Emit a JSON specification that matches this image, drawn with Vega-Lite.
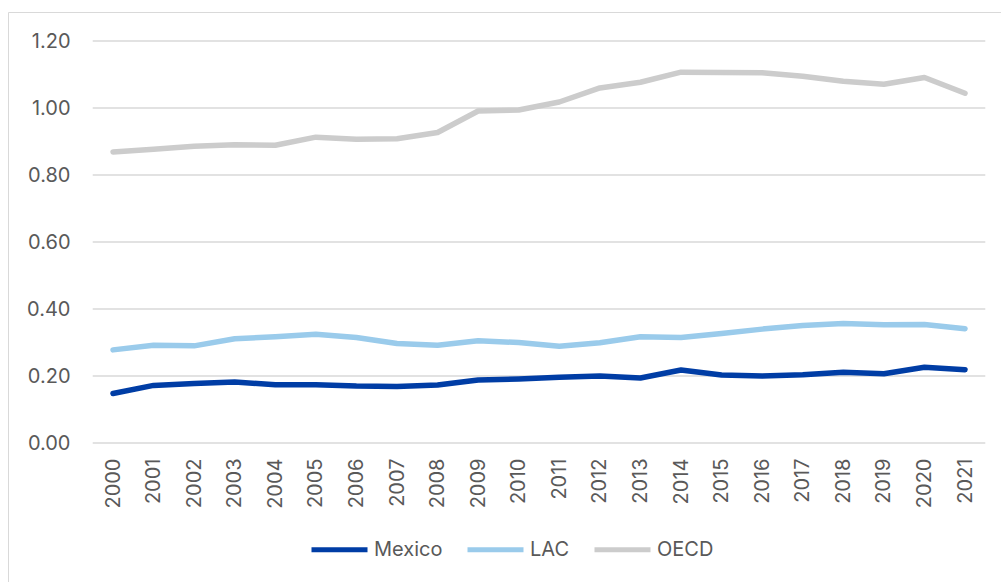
{
  "$schema": "https://vega.github.io/schema/vega-lite/v6.json",
  "width": 993,
  "height": 570,
  "autosize": {"type": "none"},
  "padding": {"left": 8, "top": 12, "right": 0, "bottom": 0},
  "background": "white",
  "config": {
    "view": {"stroke": null},
    "font": "Inter",
    "axis": {"labelFont": "Inter", "labelColor": "#595959", "labelFontSize": 20}
  },
  "datasets": {
    "gridLevels": [
      {"level": 0}, {"level": 0.2}, {"level": 0.4}, {"level": 0.6},
      {"level": 0.8}, {"level": 1.0}, {"level": 1.2}
    ],
    "indicator": [
      {"year": 2000, "series": "Mexico", "value": 0.148},
      {"year": 2001, "series": "Mexico", "value": 0.172},
      {"year": 2002, "series": "Mexico", "value": 0.178},
      {"year": 2003, "series": "Mexico", "value": 0.182},
      {"year": 2004, "series": "Mexico", "value": 0.174},
      {"year": 2005, "series": "Mexico", "value": 0.174},
      {"year": 2006, "series": "Mexico", "value": 0.170},
      {"year": 2007, "series": "Mexico", "value": 0.169},
      {"year": 2008, "series": "Mexico", "value": 0.173},
      {"year": 2009, "series": "Mexico", "value": 0.188},
      {"year": 2010, "series": "Mexico", "value": 0.191},
      {"year": 2011, "series": "Mexico", "value": 0.196},
      {"year": 2012, "series": "Mexico", "value": 0.200},
      {"year": 2013, "series": "Mexico", "value": 0.194},
      {"year": 2014, "series": "Mexico", "value": 0.218},
      {"year": 2015, "series": "Mexico", "value": 0.203},
      {"year": 2016, "series": "Mexico", "value": 0.200},
      {"year": 2017, "series": "Mexico", "value": 0.204},
      {"year": 2018, "series": "Mexico", "value": 0.211},
      {"year": 2019, "series": "Mexico", "value": 0.207},
      {"year": 2020, "series": "Mexico", "value": 0.226},
      {"year": 2021, "series": "Mexico", "value": 0.219},
      {"year": 2000, "series": "LAC", "value": 0.278},
      {"year": 2001, "series": "LAC", "value": 0.292},
      {"year": 2002, "series": "LAC", "value": 0.290},
      {"year": 2003, "series": "LAC", "value": 0.311},
      {"year": 2004, "series": "LAC", "value": 0.317},
      {"year": 2005, "series": "LAC", "value": 0.325},
      {"year": 2006, "series": "LAC", "value": 0.315},
      {"year": 2007, "series": "LAC", "value": 0.297},
      {"year": 2008, "series": "LAC", "value": 0.292},
      {"year": 2009, "series": "LAC", "value": 0.305},
      {"year": 2010, "series": "LAC", "value": 0.300},
      {"year": 2011, "series": "LAC", "value": 0.289},
      {"year": 2012, "series": "LAC", "value": 0.299},
      {"year": 2013, "series": "LAC", "value": 0.317},
      {"year": 2014, "series": "LAC", "value": 0.315},
      {"year": 2015, "series": "LAC", "value": 0.327},
      {"year": 2016, "series": "LAC", "value": 0.340},
      {"year": 2017, "series": "LAC", "value": 0.351},
      {"year": 2018, "series": "LAC", "value": 0.357},
      {"year": 2019, "series": "LAC", "value": 0.353},
      {"year": 2020, "series": "LAC", "value": 0.354},
      {"year": 2021, "series": "LAC", "value": 0.341},
      {"year": 2000, "series": "OECD", "value": 0.869},
      {"year": 2001, "series": "OECD", "value": 0.877},
      {"year": 2002, "series": "OECD", "value": 0.886},
      {"year": 2003, "series": "OECD", "value": 0.890},
      {"year": 2004, "series": "OECD", "value": 0.889},
      {"year": 2005, "series": "OECD", "value": 0.913},
      {"year": 2006, "series": "OECD", "value": 0.907},
      {"year": 2007, "series": "OECD", "value": 0.908},
      {"year": 2008, "series": "OECD", "value": 0.927},
      {"year": 2009, "series": "OECD", "value": 0.991},
      {"year": 2010, "series": "OECD", "value": 0.994},
      {"year": 2011, "series": "OECD", "value": 1.018},
      {"year": 2012, "series": "OECD", "value": 1.060},
      {"year": 2013, "series": "OECD", "value": 1.077},
      {"year": 2014, "series": "OECD", "value": 1.107},
      {"year": 2015, "series": "OECD", "value": 1.106},
      {"year": 2016, "series": "OECD", "value": 1.105},
      {"year": 2017, "series": "OECD", "value": 1.095},
      {"year": 2018, "series": "OECD", "value": 1.080},
      {"year": 2019, "series": "OECD", "value": 1.071},
      {"year": 2020, "series": "OECD", "value": 1.091},
      {"year": 2021, "series": "OECD", "value": 1.044}
    ]
  },
  "layer": [
    {
      "description": "Horizontal gridlines; the top axis domain draws the frame's upper edge",
      "data": {"name": "gridLevels"},
      "mark": {"type": "rule", "color": "#d9d9d9", "strokeWidth": 1.3},
      "encoding": {
        "x": {
          "datum": 1999.5,
          "type": "quantitative",
          "scale": {"domain": [1997.412, 2021.887], "nice": false, "zero": false},
          "axis": {
            "orient": "top", "title": null, "labels": false, "ticks": false,
            "grid": false, "domain": true, "domainColor": "#d9d9d9", "domainWidth": 1
          }
        },
        "x2": {"datum": 2021.5},
        "y": {
          "field": "level",
          "type": "quantitative",
          "scale": {"domain": [-0.4149, 1.2866], "nice": false, "zero": false},
          "axis": {
            "orient": "left", "title": null,
            "values": [0, 0.2, 0.4, 0.6, 0.8, 1.0, 1.2],
            "format": ".2f", "labelPadding": -62,
            "ticks": false, "tickSize": 0, "grid": false,
            "domain": true, "domainColor": "#d9d9d9", "domainWidth": 1,
            "labelOverlap": false, "labelFlush": false, "labelBound": false
          }
        }
      }
    },
    {
      "data": {"name": "indicator"},
      "mark": {"type": "line", "strokeWidth": 5.5, "strokeCap": "round", "strokeJoin": "round"},
      "encoding": {
        "x": {
          "field": "year",
          "type": "quantitative",
          "scale": {"domain": [1997.412, 2021.887], "nice": false, "zero": false},
          "axis": {
            "orient": "bottom", "title": null, "offset": -139,
            "values": [2000, 2001, 2002, 2003, 2004, 2005, 2006, 2007, 2008, 2009, 2010,
                       2011, 2012, 2013, 2014, 2015, 2016, 2017, 2018, 2019, 2020, 2021],
            "format": "d", "labelAngle": -90, "labelPadding": 15,
            "ticks": false, "tickSize": 0, "domain": false, "grid": false,
            "labelOverlap": false, "labelFlush": false, "labelBound": false
          }
        },
        "y": {
          "field": "value",
          "type": "quantitative",
          "scale": {"domain": [-0.4149, 1.2866], "nice": false, "zero": false},
          "axis": {
            "orient": "left", "title": null,
            "values": [0, 0.2, 0.4, 0.6, 0.8, 1.0, 1.2],
            "format": ".2f", "labelPadding": -62,
            "ticks": false, "tickSize": 0, "grid": false,
            "domain": true, "domainColor": "#d9d9d9", "domainWidth": 1,
            "labelOverlap": false, "labelFlush": false, "labelBound": false
          }
        },
        "color": {
          "field": "series",
          "type": "nominal",
          "sort": ["Mexico", "LAC", "OECD"],
          "scale": {"domain": ["Mexico", "LAC", "OECD"], "range": ["#003DA5", "#9ACBEB", "#CCCCCC"]},
          "legend": {
            "title": null, "orient": "none", "direction": "horizontal",
            "legendX": 301, "legendY": 507,
            "symbolType": "stroke", "symbolSize": 3136, "symbolStrokeWidth": 5,
            "labelFont": "Inter", "labelFontSize": 20, "labelColor": "#595959",
            "labelOffset": 4, "columnPadding": 14
          }
        }
      }
    }
  ]
}
